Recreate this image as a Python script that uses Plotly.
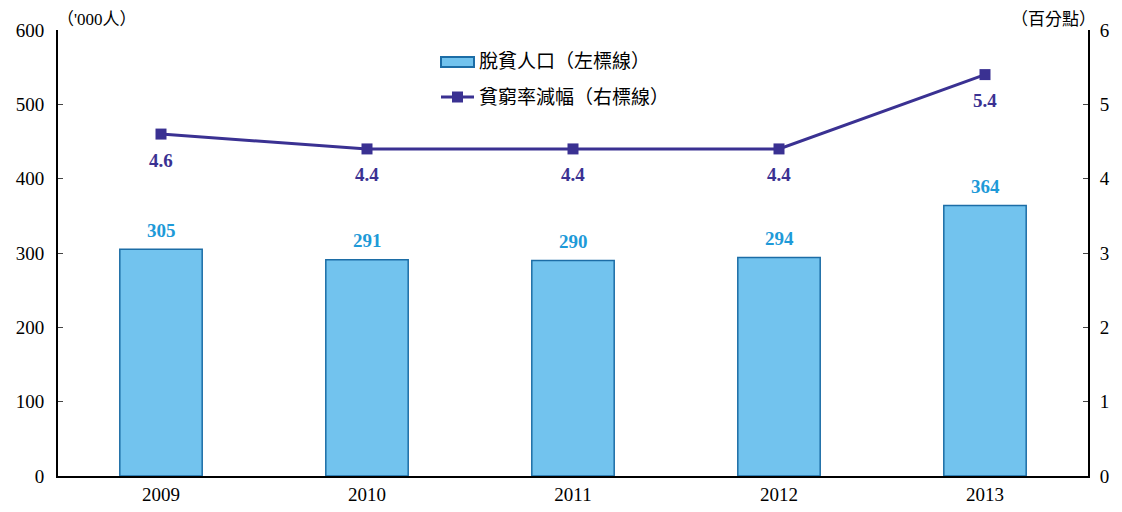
import plotly.graph_objects as go

years = ["2009", "2010", "2011", "2012", "2013"]
poverty_exit = [305, 291, 290, 294, 364]      # '000人, left axis
rate_drop = [4.6, 4.4, 4.4, 4.4, 5.4]         # 百分點, right axis
legend_names = ["脫貧人口（左標線）", "貧窮率減幅（右標線）"]

FONT = "Liberation Serif, Times New Roman, Noto Sans CJK TC, serif"
BAR_FILL = "#72C3EE"
BAR_LINE = "#1C6DA6"
BAR_TEXT = "#1E9AD8"
LINE_COL = "#3A3192"

# page has an 8px body margin, so work in page pixels and shift
OFF = 8
W, H = 1122 - 2 * OFF, 512 - 2 * OFF
L, R, T, B = 58, 1088, 30, 476          # plot area, page pixels
def px(x):
    return (x - L) / (R - L)
def py(y):
    return (B - y) / (B - T)

fig = go.Figure()

fig.add_trace(go.Bar(
    x=years, y=poverty_exit, name=legend_names[0],
    marker=dict(color=BAR_FILL, line=dict(color=BAR_LINE, width=1.5)),
    width=0.4, showlegend=False,
))

fig.add_trace(go.Scatter(
    x=years, y=rate_drop, name=legend_names[1], yaxis="y2",
    mode="lines+markers",
    line=dict(color=LINE_COL, width=3),
    marker=dict(symbol="square", size=11, color=LINE_COL),
    cliponaxis=False, showlegend=False,
))

# value labels (category index on x so "2009" is not read as an index)
for i, v in enumerate(poverty_exit):
    fig.add_annotation(x=i, y=v, xref="x", yref="y", text=f"<b>{v}</b>",
                       showarrow=False, yanchor="middle", yshift=19,
                       font=dict(family=FONT, size=19, color=BAR_TEXT))
for i, v in enumerate(rate_drop):
    fig.add_annotation(x=i, y=v, xref="x", yref="y2", text=f"<b>{v:.1f}</b>",
                       showarrow=False, yanchor="middle", yshift=-26,
                       font=dict(family=FONT, size=19, color=LINE_COL))

axis_common = dict(showline=True, linecolor="black", linewidth=2,
                   showgrid=False, zeroline=False, automargin=False,
                   tickfont=dict(family=FONT, size=19, color="black"))

fig.update_layout(
    width=W, height=H,
    margin=dict(l=L - OFF, r=W - (R - OFF), t=T - OFF, b=H - (B - OFF)),
    plot_bgcolor="white", paper_bgcolor="white",
    font=dict(family=FONT, size=18, color="black"),
    showlegend=False,
    xaxis=dict(type="category", range=[-0.5, len(years) - 0.5], ticks="",
               **axis_common),
    yaxis=dict(range=[0, 600], dtick=100, ticks="inside", ticklen=5,
               ticklabelstandoff=8, **axis_common),
    yaxis2=dict(range=[0, 6], dtick=1, overlaying="y", side="right",
                ticks="inside", ticklen=5, ticklabelstandoff=6, **axis_common),
)

# legend drawn by hand to get the wide box symbol
fig.add_shape(type="rect", xref="paper", yref="paper",
              x0=px(441), x1=px(474), y0=py(67), y1=py(57),
              fillcolor=BAR_FILL, line=dict(color=BAR_LINE, width=2))
fig.add_shape(type="line", xref="paper", yref="paper",
              x0=px(441), x1=px(474), y0=py(97), y1=py(97),
              line=dict(color=LINE_COL, width=3))
fig.add_shape(type="rect", xref="paper", yref="paper",
              x0=px(452), x1=px(463), y0=py(102.5), y1=py(91.5),
              fillcolor=LINE_COL, line=dict(color=LINE_COL, width=0))
for name, yc in zip(legend_names, [62, 97]):
    fig.add_annotation(text=name, xref="paper", yref="paper",
                       x=px(477), y=py(yc), xanchor="left", yanchor="middle",
                       showarrow=False, font=dict(size=19))

fig.add_annotation(text="（'000人）", xref="paper", yref="paper", x=px(55), y=py(19),
                   xanchor="left", yanchor="middle", showarrow=False,
                   font=dict(size=17))
fig.add_annotation(text="（百分點）", xref="paper", yref="paper", x=px(1098), y=py(19),
                   xanchor="right", yanchor="middle", showarrow=False,
                   font=dict(size=17))

fig.write_html("out.html")
